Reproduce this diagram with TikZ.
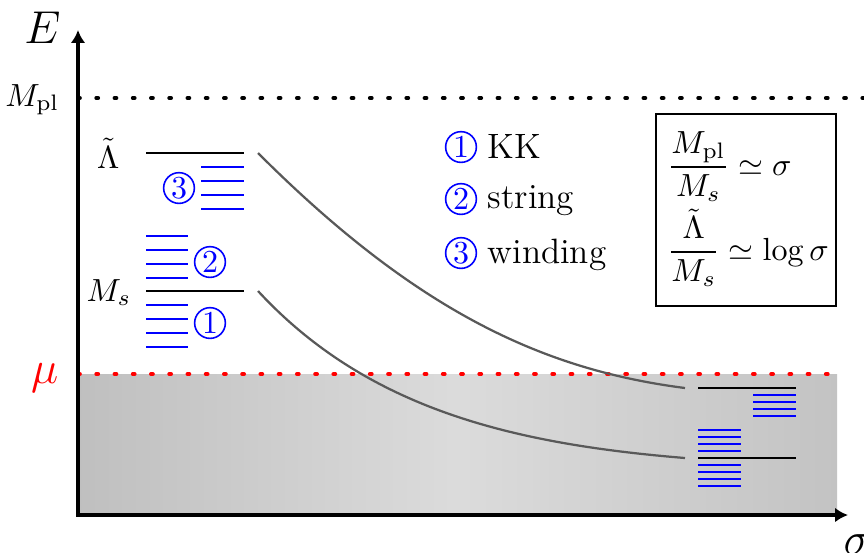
\documentclass[tikz,border=0pt]{standalone}
\usepackage{amsmath}
\usetikzlibrary{arrows.meta}
\begin{document}
\begin{tikzpicture}[x=0.3125pt,y=-0.3125pt,
  level/.style={line width=0.9pt},
  tower/.style={blue, line width=0.8pt},
  flow/.style={black!65, line width=0.7pt},
  dots/.style={line width=1.2pt, line cap=round, dash pattern=on 0.6pt off 5.1pt},
  num/.style={circle, draw=blue, text=blue, inner sep=0pt, minimum size=9.6pt, line width=0.5pt},
  axislabel/.style={inner sep=0pt, anchor=base east},
  legtext/.style={inner sep=0pt, anchor=base west, font=\fontsize{11}{13}\selectfont}]
\useasboundingbox (0,0) rectangle (864,552);

% region below the cutoff
\shade[left color=gray!50, right color=gray!47, middle color=gray!28] (78,374) rectangle (837,515);
\draw[dots, red] (78,374) -- (837,374);
\draw[dots] (78,98) -- (864,98);

% axes
\coordinate (origin) at (78,515);
\coordinate (ytop) at (78,30);
\coordinate (xend) at (848,515);
\draw[line width=1.25pt, {Latex[length=4pt,width=4.5pt]}-{Latex[length=4pt,width=4.5pt]}] (ytop) -- (origin) -- (xend);

% axis and scale labels
\node[axislabel] (Elab) at (61,43) {\Large $E$};
\node[inner sep=0pt, anchor=base west] (sigmalab) at (843,554) {\Large $\sigma$};
\node[axislabel] (mpl) at (60,106) {$M_{\mathrm{pl}}$};
\node[axislabel, red] (mu) at (59,383) {\Large $\mu$};
\node[axislabel] (lam) at (120,168) {$\tilde\Lambda$};
\node[axislabel] (ms) at (132,301) {$M_s$};

% spectrum at small sigma
\draw[level] (146,153) -- (244,153);
\foreach \y in {167,181,195,209} \draw[tower] (201,\y) -- (244,\y);
\foreach \y in {236,250,264,278} \draw[tower] (146,\y) -- (188,\y);
\draw[level] (146,291) -- (244,291);
\foreach \y in {305,319,333,347} \draw[tower] (146,\y) -- (188,\y);
\node[num] (t3) at (179,188) {3};
\node[num] (t2) at (210,262) {2};
\node[num] (t1) at (210,323) {1};

% spectrum at large sigma
\draw[level] (698,388) -- (796,388);
\foreach \y in {395,402,409,416} \draw[tower] (753,\y) -- (796,\y);
\foreach \y in {430,437,444,451,465,472,479,486} \draw[tower] (698,\y) -- (741,\y);
\draw[level] (698,458) -- (796,458);

% running of the scales
\coordinate (lamA) at (258,153);
\coordinate (lamB) at (685,388);
\coordinate (msA) at (258,291);
\coordinate (msB) at (685,458);
\draw[flow] (lamA) .. controls (418,313) and (545,370) .. (lamB);
\draw[flow] (msA) .. controls (368,410) and (515,444) .. (msB);

% legend
\node[num] (c1) at (461,147) {1};
\node[legtext] (kk) at (487,158) {KK};
\node[num] (c2) at (461,199) {2};
\node[legtext] (str) at (487,208) {string};
\node[num] (c3) at (461,253) {3};
\node[legtext] (wind) at (487,263) {winding};

% relations
\node[draw, line width=0.8pt, minimum width=56.25pt, minimum height=60pt, inner sep=0pt] (box) at (746,210) {};
\node[inner sep=0pt, anchor=base west] (eq1) at (667,175) {$\displaystyle\frac{M_{\mathrm{pl}}}{M_s}\simeq\sigma$};
\node[inner sep=0pt, anchor=base west] (eq2) at (667,260) {$\displaystyle\frac{\tilde\Lambda}{M_s}\simeq\log\sigma$};
\end{tikzpicture}
\end{document}
